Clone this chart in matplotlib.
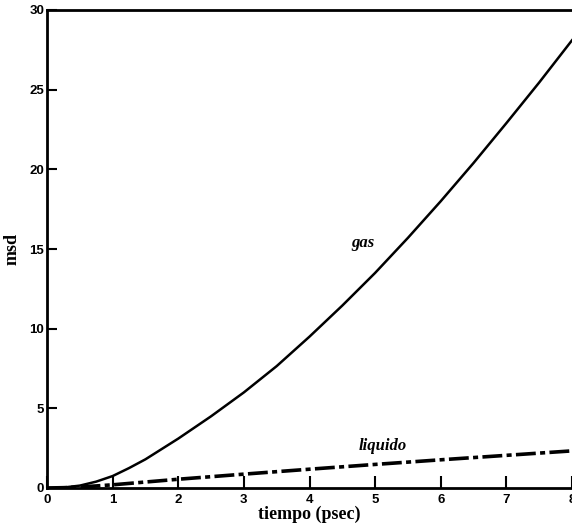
import numpy as np
import matplotlib.pyplot as plt

# valores
t_gas = [0, 0.25, 0.5, 0.75, 1, 1.25, 1.5, 1.75, 2, 2.5, 3, 3.5, 4, 4.5, 5, 5.5, 6, 6.5, 7, 7.5, 8]
msd_gas = [0, 0.03, 0.15, 0.4, 0.75, 1.25, 1.8, 2.45, 3.1, 4.5, 6.0, 7.65, 9.5, 11.45, 13.5, 15.7, 18.0, 20.4, 22.9, 25.45, 28.1]

t_liq = [0, 0.25, 0.5, 1, 2, 3, 4, 5, 6, 7, 8]
msd_liq = [0, 0.02, 0.06, 0.2, 0.55, 0.87, 1.18, 1.48, 1.77, 2.05, 2.33]

x_ticks = [0, 1, 2, 3, 4, 5, 6, 7, 8]
y_ticks = [0, 5, 10, 15, 20, 25, 30]

fig = plt.figure(figsize=(5.72, 5.32), dpi=100)
ax = fig.add_axes([47 / 572, 44 / 532, 525 / 572, 478 / 532])

ax.plot(t_gas, msd_gas, color='black', lw=1.8)
ax.plot(t_liq, msd_liq, color='black', lw=2.6, dashes=[5.5, 1.2, 1.4, 1.2])

ax.set_xlim(0, 8)
ax.set_ylim(0, 30)
ax.set_xticks(x_ticks)
ax.set_yticks(y_ticks)

for lab in ax.get_xticklabels() + ax.get_yticklabels():
    lab.set_fontweight('bold')
    lab.set_fontsize(9.5)
    lab.set_family('Liberation Sans')

ax.tick_params(axis='x', direction='in', length=9, width=1.5, pad=4)
ax.tick_params(axis='y', direction='in', length=7, width=1.5, pad=2)

for side in ['left', 'bottom', 'top']:
    ax.spines[side].set_linewidth(2)
ax.spines['right'].set_visible(False)

ax.set_xlabel('tiempo (psec)', family='Liberation Serif', fontweight='bold', fontsize=13, labelpad=0)
ax.set_ylabel('msd', family='Liberation Serif', fontweight='bold', fontsize=13, labelpad=6)

ax.text(4.82, 15.4, 'gas', family='Liberation Serif', style='italic', fontweight='bold',
        fontsize=12, ha='center', va='center')
ax.text(5.12, 2.65, 'liquido', family='Liberation Serif', style='italic', fontweight='bold',
        fontsize=12, ha='center', va='center')

fig.savefig('out.png', dpi=100)
